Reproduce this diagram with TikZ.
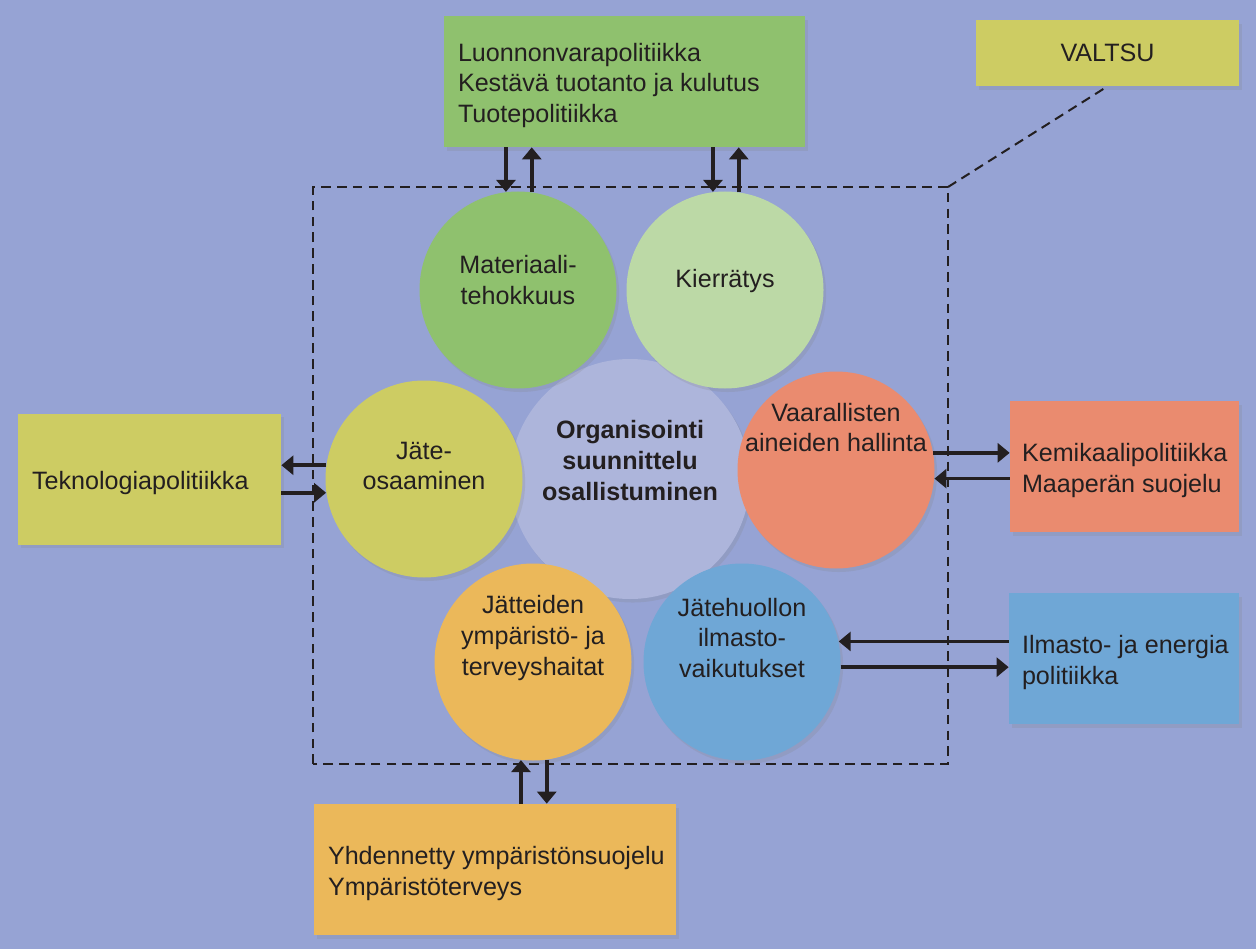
\documentclass[tikz,border=0pt]{standalone}
\usepackage{fontspec}
\setmainfont{Liberation Sans}
\usepackage{tikz}
\usetikzlibrary{arrows.meta,shadows}

\definecolor{bgblue}{RGB}{150,163,212}
\definecolor{txtdark}{RGB}{35,31,32}
\definecolor{leafgreen}{RGB}{143,193,110}
\definecolor{palegreen}{RGB}{188,217,166}
\definecolor{olive}{RGB}{205,204,99}
\definecolor{salmon}{RGB}{234,139,111}
\definecolor{amber}{RGB}{235,184,90}
\definecolor{skyblue}{RGB}{111,167,214}
\definecolor{lavender}{RGB}{173,181,219}

\begin{document}
\begin{tikzpicture}[
        every node/.style = {font = {\fontsize{14.3pt}{17.6pt}\selectfont}, text = txtdark},
        ball/.style = {circle, minimum size = 3.94cm, inner sep = 0pt,
            drop shadow = {opacity = 0.2, shadow xshift = 1.5pt, shadow yshift = -2pt}},
        polbox/.style = {rectangle, minimum height = 2.62cm, inner sep = 0pt,
            drop shadow = {opacity = 0.2, shadow xshift = 1.5pt, shadow yshift = -2pt}},
        intext/.style = {align = center, inner sep = 0pt},
        boxtext/.style = {align = left, anchor = west, inner sep = 0pt, yshift = -0.08cm},
        flow/.style = {line width = 2pt, draw = txtdark, -{Triangle[length = 2.4mm, width = 3.8mm]}},
        borderline/.style = {line width = 1.15pt, draw = txtdark, dash pattern = on 5.5pt off 3.5pt}
    ]
        \fill[bgblue] (0, 0) rectangle (25.12, 18.98);

        \coordinate (frameSW) at (6.26, 3.7);
        \coordinate (frameNE) at (18.96, 15.24);
        \draw[borderline] (frameSW) rectangle (frameNE);

        \node[ball, fill = lavender, minimum size = 4.8cm] (org) at (12.6, 9.4) {};
        \node[ball, fill = leafgreen] (mat) at (10.36, 13.18) {};
        \node[ball, fill = palegreen] (kie) at (14.5, 13.18) {};
        \node[ball, fill = olive] (osa) at (8.48, 9.4) {};
        \node[ball, fill = salmon] (vaa) at (16.72, 9.58) {};
        \node[ball, fill = amber] (jat) at (10.66, 5.74) {};
        \node[ball, fill = skyblue] (jhu) at (14.84, 5.74) {};

        \node[intext, font = {\fontsize{14.3pt}{17.6pt}\selectfont\bfseries}] (orgtext) at ([yshift = 0.37cm]org.center) {Organisointi\\suunnittelu\\osallistuminen};
        \node[intext] (mattext) at ([yshift = 0.2cm]mat.center) {Materiaali-\\tehokkuus};
        \node[intext] (kietext) at ([yshift = 0.17cm]kie.center) {Kierrätys};
        \node[intext] (osatext) at ([yshift = 0.26cm]osa.center) {Jäte-\\osaaminen};
        \node[intext] (vaatext) at ([yshift = 0.85cm]vaa.center) {Vaarallisten\\aineiden hallinta};
        \node[intext] (jattext) at ([yshift = 0.48cm]jat.center) {Jätteiden\\ympäristö- ja\\terveyshaitat};
        \node[intext] (jhutext) at ([yshift = 0.48cm]jhu.center) {Jätehuollon\\ilmasto-\\vaikutukset};

        \node[polbox, fill = leafgreen, minimum width = 7.22cm] (nat) at (12.49, 17.35) {};
        \node[polbox, fill = olive, minimum width = 5.26cm, minimum height = 1.32cm] (valtsu) at (22.15, 17.92) {VALTSU};
        \node[polbox, fill = olive, minimum width = 5.26cm] (tek) at (2.99, 9.4) {};
        \node[polbox, fill = salmon, minimum width = 4.58cm] (kem) at (22.49, 9.65) {};
        \node[polbox, fill = skyblue, minimum width = 4.6cm] (ilm) at (22.48, 5.81) {};
        \node[polbox, fill = amber, minimum width = 7.24cm] (yhd) at (9.9, 1.59) {};

        \node[boxtext] (nattext) at ([xshift = 0.28cm]nat.west) {Luonnonvarapolitiikka\\Kestävä tuotanto ja kulutus\\Tuotepolitiikka};
        \node[boxtext] (tektext) at ([xshift = 0.28cm]tek.west) {Teknologiapolitiikka};
        \node[boxtext] (kemtext) at ([xshift = 0.24cm]kem.west) {Kemikaalipolitiikka\\Maaperän suojelu};
        \node[boxtext] (ilmtext) at ([xshift = 0.26cm]ilm.west) {Ilmasto- ja energia\\politiikka};
        \node[boxtext] (yhdtext) at ([xshift = 0.28cm]yhd.west) {Yhdennetty ympäristönsuojelu\\Ympäristöterveys};

        \draw[borderline] (frameNE) -- (valtsu.south);

        \draw[flow] (nat.south -| mat.97) -- (mat.97);
        \draw[flow] (mat.82) -- (nat.south -| mat.82);
        \draw[flow] (nat.south -| kie.97) -- (kie.97);
        \draw[flow] (kie.82) -- (nat.south -| kie.82);
        \draw[flow] (osa.172) -- (tek.east |- osa.172);
        \draw[flow] (tek.east |- osa.188) -- (osa.188);
        \draw[flow] (vaa.10) -- (kem.west |- vaa.10);
        \draw[flow] (kem.west |- vaa.355) -- (vaa.355);
        \draw[flow] (ilm.west |- jhu.12) -- (jhu.12);
        \draw[flow] (jhu.357) -- (ilm.west |- jhu.357);
        \draw[flow] (yhd.north -| jat.263) -- (jat.263);
        \draw[flow] (jat.278) -- (yhd.north -| jat.278);
    \end{tikzpicture}
\end{document}
